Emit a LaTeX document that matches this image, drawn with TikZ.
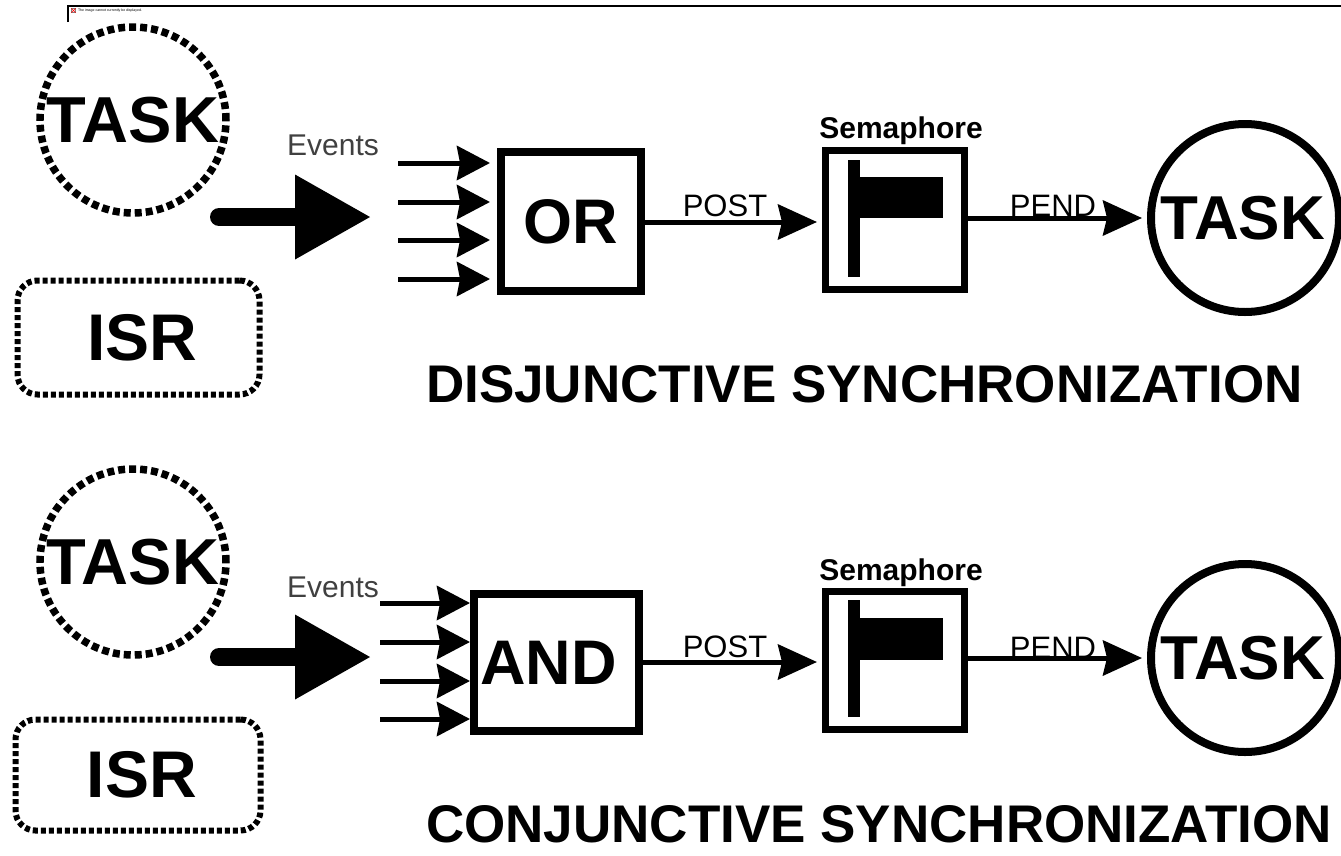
\documentclass[tikz,border=0pt]{standalone}
\usepackage{fontspec}
\setmainfont{Liberation Sans}
\usetikzlibrary{arrows.meta}

\tikzset{
  txt/.style={inner sep=0pt, outer sep=0pt},
  dashtask/.style={circle, draw, line width=7.5pt, dash pattern=on 7pt off 4pt,
    minimum size=186pt, inner sep=0pt, font=\fontsize{65}{65}\selectfont\bfseries},
  isrbox/.style={rectangle, rounded corners=20pt, draw, line width=6pt,
    dash pattern=on 5pt off 3pt, minimum width=242pt, minimum height=114pt,
    inner sep=0pt, font=\fontsize{66}{66}\selectfont\bfseries},
  gatebox/.style={rectangle, draw, line width=8pt, inner sep=0pt,
    font=\fontsize{63}{63}\selectfont\bfseries},
  sembox/.style={rectangle, draw, line width=7pt, minimum width=139pt,
    minimum height=139pt, inner sep=0pt},
  taskcirc/.style={circle, draw, line width=8pt, minimum size=188pt, inner sep=0pt,
    font=\fontsize{62}{62}\selectfont\bfseries},
  evlabel/.style={txt, anchor=base, text=black!75, font=\fontsize{30}{30}\selectfont},
  semlabel/.style={txt, anchor=base, font=\fontsize{30}{30}\selectfont\bfseries},
  oplabel/.style={txt, anchor=base, font=\fontsize{31}{31}\selectfont},
  title/.style={txt, anchor=base west, font=\fontsize{53}{53}\selectfont\bfseries},
  evarrow/.style={line width=5pt, -{Stealth[length=33pt,width=34pt,inset=3pt]}},
  flowarrow/.style={line width=5pt, -{Stealth[length=39pt,width=35pt,inset=4pt]}},
  bigarrow/.style={line width=18pt, line cap=round,
    -{Triangle[length=75pt,width=85pt,line width=0pt]}},
}

\begin{document}
\begin{tikzpicture}[x=1pt, y=-1pt]
\useasboundingbox (0,0) rectangle (1341,855);

% placeholder frame in the top left corner
\coordinate (fa) at (68,22);
\coordinate (fb) at (68,6);
\coordinate (fc) at (1341,6);
\draw[line width=1.2pt] (fa) -- (fb) -- (fc);
\node[draw=black!50, line width=0.3pt, minimum size=4pt, inner sep=0pt] (icon) at (73.5,10.5) {};
\draw[red, line width=0.5pt] (icon.north west) -- (icon.south east) (icon.north east) -- (icon.south west);
\node[txt, anchor=west, font=\fontsize{3.5}{3.5}\selectfont] (broken) at (78,10.5)
  {The image cannot currently be displayed.};

% ---------------- disjunctive synchronization ----------------
\node[dashtask] (srcA) at (133,120) {TASK};
\node[isrbox] (isrA) at (138.5,337.5) {\hspace{8pt}ISR};

\coordinate (bigAs) at (219,217);
\coordinate (bigAe) at (370,217);
\draw[bigarrow] (bigAs) -- (bigAe);

\node[evlabel] (evA) at (333,155) {Events};

\node[gatebox, minimum width=140pt, minimum height=139pt] (orbox) at (571,221.5) {OR};
\foreach \i/\y in {1/163,2/202,3/240,4/279}{
  \coordinate (eA\i) at (398,\y);
  \draw[evarrow, shorten >=7pt] (eA\i) -- (eA\i -| orbox.west);
}

\node[sembox] (semA) at (895,220) {};
\fill ([shift={(-47,-60)}]semA.center) rectangle ++(12,117);
\fill ([shift={(-35,-43)}]semA.center) rectangle ++(83,41);
\node[semlabel] (semAlab) at (901,138) {Semaphore};

\coordinate (postA) at (645,222);
\draw[flowarrow, shorten >=5pt] (postA) -- (postA -| semA.west);
\node[oplabel] (postAlab) at (725,216) {POST};

\node[taskcirc] (dstA) at (1245,218) {TASK\hspace*{4pt}};
\draw[flowarrow, shorten >=5pt] (semA.east |- dstA.west) -- (dstA.west);
\node[oplabel] (pendAlab) at (1053,216) {PEND};

\node[title] (titleA) at (426,402) {DISJUNCTIVE SYNCHRONIZATION};

% ---------------- conjunctive synchronization ----------------
\node[dashtask] (srcB) at (133,562) {TASK};
\node[isrbox, minimum width=245pt, minimum height=111pt] (isrB) at (138,775) {\hspace{8pt}ISR};

\coordinate (bigBs) at (219,657);
\coordinate (bigBe) at (370,657);
\draw[bigarrow] (bigBs) -- (bigBe);

\node[evlabel] (evB) at (333,597) {Events};

\node[gatebox, minimum width=165pt, minimum height=137pt] (andbox) at (556.5,662.5) {AND\hspace*{16pt}};
\foreach \i/\y in {1/603,2/642,3/681,4/719}{
  \coordinate (eB\i) at (380,\y);
  \draw[evarrow] (eB\i) -- (eB\i -| andbox.west);
}

\node[sembox, minimum height=138pt] (semB) at (895,660.5) {};
\fill ([shift={(-47,-60.5)}]semB.center) rectangle ++(12,117);
\fill ([shift={(-35,-42.5)}]semB.center) rectangle ++(83,42);
\node[semlabel] (semBlab) at (901,580) {Semaphore};

\coordinate (postB) at (643,662);
\draw[flowarrow, shorten >=5pt] (postB) -- (postB -| semB.west);
\node[oplabel] (postBlab) at (725,657) {POST};

\node[taskcirc] (dstB) at (1245,658) {TASK\hspace*{4pt}};
\draw[flowarrow, shorten >=5pt] (semB.east |- dstB.west) -- (dstB.west);
\node[oplabel] (pendBlab) at (1053,658) {PEND};

\node[title] (titleB) at (426,842) {CONJUNCTIVE SYNCHRONIZATION};
\end{tikzpicture}
\end{document}
